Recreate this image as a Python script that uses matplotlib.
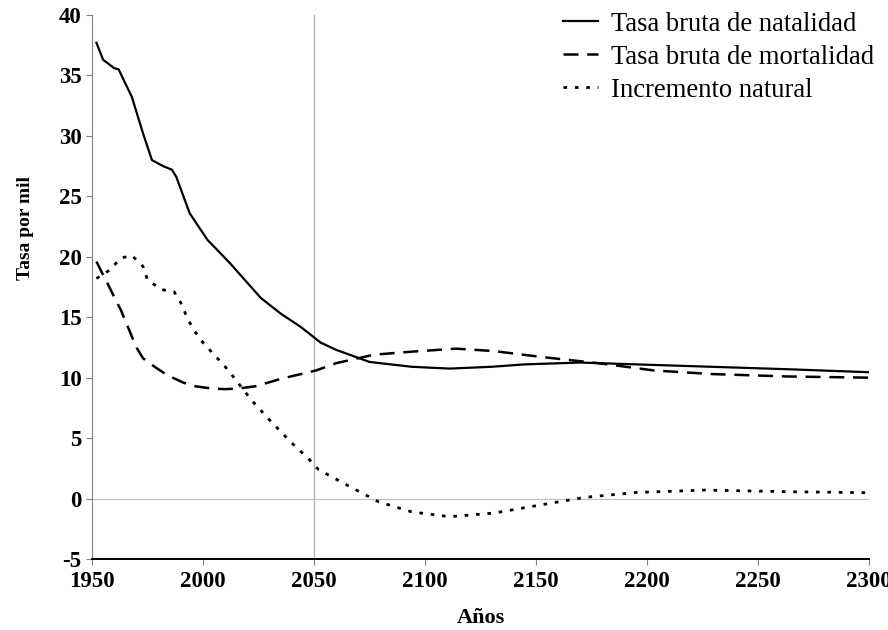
import matplotlib.pyplot as plt

plt.rcParams['font.family'] = ['Liberation Serif', 'DejaVu Serif']
plt.rcParams['axes.unicode_minus'] = False

# Tasa bruta de natalidad
anios_nat = [1952, 1955, 1960, 1962, 1968, 1973, 1977, 1982, 1986, 1988, 1994, 2002,
             2012, 2026, 2035, 2044, 2053, 2060, 2075, 2094, 2111, 2130, 2145, 2170,
             2195, 2229, 2263, 2300]
natalidad = [37.7, 36.3, 35.6, 35.5, 33.2, 30.2, 28.0, 27.5, 27.2, 26.6, 23.6, 21.4,
             19.5, 16.6, 15.3, 14.2, 12.9, 12.3, 11.3, 10.9, 10.75, 10.9, 11.1, 11.25,
             11.1, 10.9, 10.7, 10.45]

# Tasa bruta de mortalidad
anios_mort = [1952, 1955, 1957, 1961, 1963, 1970, 1973, 1979, 1984, 1991, 1996, 2004,
              2010, 2016, 2024, 2035, 2051, 2060, 2077, 2094, 2114, 2131, 2153, 2178,
              2203, 2229, 2263, 2300]
mortalidad = [19.6, 18.5, 17.8, 16.3, 15.6, 12.5, 11.6, 10.8, 10.2, 9.6, 9.3, 9.1,
              9.05, 9.1, 9.3, 9.9, 10.6, 11.2, 11.9, 12.15, 12.4, 12.2, 11.7, 11.2,
              10.6, 10.3, 10.1, 10.0]

# Incremento natural
anios_inc = [1952, 1958, 1963, 1968, 1973, 1975, 1981, 1987, 1990, 1993, 1996, 2000,
             2005, 2010, 2014, 2022, 2031, 2040, 2048, 2052, 2066, 2079, 2094, 2111,
             2131, 2153, 2172, 2195, 2226, 2263, 2300]
incremento = [18.2, 18.9, 19.9, 20.1, 19.2, 18.1, 17.3, 17.1, 16.2, 14.9, 13.9, 12.9,
              11.9, 10.9, 10.0, 8.1, 6.3, 4.6, 3.2, 2.4, 1.0, -0.26, -1.1, -1.5,
              -1.2, -0.5, 0.1, 0.5, 0.7, 0.57, 0.48]

fig = plt.figure(figsize=(8.88, 6.30), dpi=100)
ax = fig.add_axes([0.1036, 0.1127, 0.875, 0.8635])

# lineas de referencia
ax.axvline(2050, color='#b0b0b0', lw=0.9, zorder=1)
ax.axhline(0, color='#c0c0c0', lw=0.9, zorder=1)

ax.plot(anios_nat, natalidad, color='black', lw=1.6, label='Tasa bruta de natalidad')
ax.plot(anios_mort, mortalidad, color='black', lw=1.8, dashes=(6, 3.5),
        label='Tasa bruta de mortalidad')
ax.plot(anios_inc, incremento, color='black', lw=2.0, dashes=(1.3, 2.8),
        label='Incremento natural')

ax.set_xlim(1950, 2300)
ax.set_ylim(-5, 40)
ax.set_xticks(range(1950, 2301, 50))
ax.set_yticks(range(-5, 41, 5))

for s in ['top', 'right']:
    ax.spines[s].set_visible(False)
ax.spines['left'].set_color('#808080')
ax.spines['bottom'].set_color('black')
ax.spines['bottom'].set_linewidth(1.4)
ax.tick_params(axis='both', colors='#808080', length=4, labelsize=16.5)
for lab in ax.get_xticklabels() + ax.get_yticklabels():
    lab.set_fontweight('bold')
    lab.set_color('black')
ax.tick_params(axis='x', pad=5)

ax.set_xlabel('Años', fontsize=16, fontweight='bold', labelpad=11)
ax.set_ylabel('Tasa por mil', fontsize=14, fontweight='bold')
ax.yaxis.set_label_coords(-0.074, 0.608)

ax.legend(loc='upper left', bbox_to_anchor=(0.606, 1.006), frameon=False,
          borderpad=0, borderaxespad=0, fontsize=19.2, handlelength=1.3,
          handletextpad=0.5, labelspacing=0.3)

fig.savefig('out.png', dpi=100)
